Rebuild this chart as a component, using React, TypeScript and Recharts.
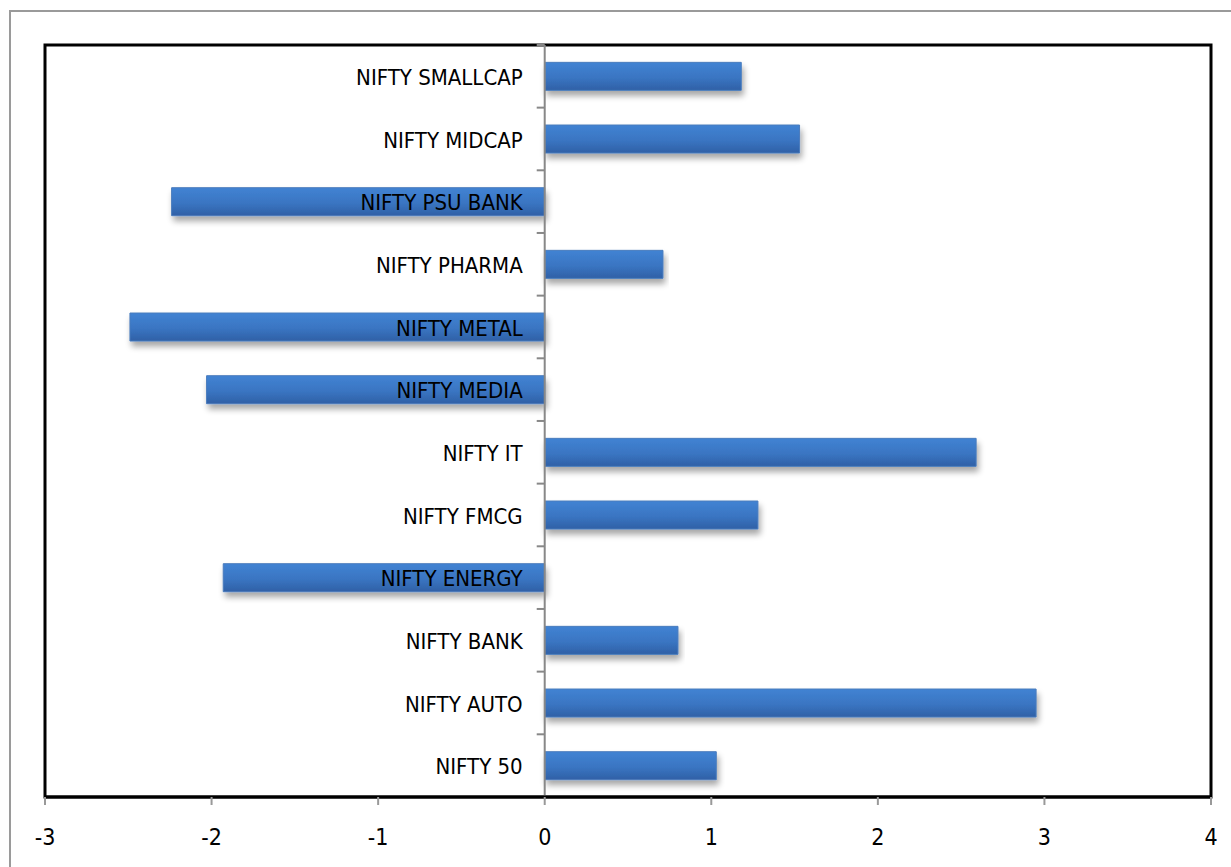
import { Bar, BarChart, LabelList, ReferenceArea, ReferenceLine, XAxis, YAxis } from "recharts";

// NIFTY indices, % change
const indices = [
  "NIFTY 50",
  "NIFTY AUTO",
  "NIFTY BANK",
  "NIFTY ENERGY",
  "NIFTY FMCG",
  "NIFTY IT",
  "NIFTY MEDIA",
  "NIFTY METAL",
  "NIFTY PHARMA",
  "NIFTY PSU BANK",
  "NIFTY MIDCAP",
  "NIFTY SMALLCAP",
];
const changes = [1.03, 2.95, 0.8, -1.93, 1.28, 2.59, -2.03, -2.49, 0.71, -2.24, 1.53, 1.18];
const xTicks = [-3, -2, -1, 0, 1, 2, 3, 4];

const FONT = "'Liberation Sans Narrow', 'DejaVu Sans Condensed', Arial, sans-serif";
const GAP = 0.277; // barCategoryGap as a fraction of the band

// reversed so the first category sits at the bottom
const data = indices.map((name, i) => ({ name, value: changes[i] })).reverse();

// Excel-style: category name right-aligned just left of the zero line, plus a tick at each band edge
function CategoryLabel(props: any) {
  const { x, y, width, height, value, index } = props;
  const neg = data[index].value < 0;
  const zero = neg ? Math.max(x, x + width) : Math.min(x, x + width);
  const band = height / (1 - 2 * GAP);
  const top = y + height / 2 - band / 2;
  return (
    <g>
      <line x1={zero - 8} x2={zero} y1={top} y2={top} stroke="#888" strokeWidth={2} />
      <text
        x={zero - 22}
        y={y + height / 2 + 1}
        textAnchor="end"
        dominantBaseline="central"
        fill="#000"
        fontSize={22}
        fontFamily={FONT}
      >
        {value}
      </text>
    </g>
  );
}

export default function App() {
  return (
    <div style={{ position: "relative", width: 1231, height: 867, background: "#fff" }}>
      <style>{`body{margin:0}`}</style>
      <div
        style={{
          position: "absolute",
          left: 9,
          top: 10,
          right: -10,
          bottom: -10,
          borderLeft: "2px solid #9a9a9a",
          borderTop: "2px solid #9a9a9a",
        }}
      />
      <BarChart
        width={1231}
        height={867}
        data={data}
        layout="vertical"
        margin={{ top: 45, right: 20, bottom: 20, left: 45 }}
        barCategoryGap={`${GAP * 100}%`}
        style={{ position: "absolute", left: 0, top: 0 }}
      >
        <defs>
          <linearGradient id="barFill" x1="0" y1="0" x2="0" y2="1">
            <stop offset="0%" stopColor="#4183d3" />
            <stop offset="55%" stopColor="#3a75c2" />
            <stop offset="100%" stopColor="#2f60a6" />
          </linearGradient>
          <filter id="barShadow" x="-5%" y="-30%" width="110%" height="180%">
            <feGaussianBlur in="SourceAlpha" stdDeviation="3" />
            <feOffset dx="2" dy="5" result="off" />
            <feComponentTransfer>
              <feFuncA type="linear" slope="0.35" />
            </feComponentTransfer>
            <feMerge>
              <feMergeNode />
              <feMergeNode in="SourceGraphic" />
            </feMerge>
          </filter>
        </defs>
        <XAxis
          type="number"
          domain={[-3, 4]}
          ticks={xTicks}
          interval={0}
          axisLine={{ stroke: "#000", strokeWidth: 3 }}
          tickLine={{ stroke: "#999", strokeWidth: 2 }}
          tickSize={8}
          tickMargin={24}
          height={50}
          tick={{ fill: "#000", fontSize: 23, fontFamily: FONT }}
        />
        <YAxis type="category" dataKey="name" hide />
        <Bar
          dataKey="value"
          fill="url(#barFill)"
          stroke="#4a7cbd"
          strokeWidth={1}
          style={{ filter: "url(#barShadow)" }}
          isAnimationActive={false}
        >
          <LabelList dataKey="name" content={<CategoryLabel />} />
        </Bar>
        <ReferenceLine x={0} stroke="#888" strokeWidth={2} />
        <ReferenceArea x1={-3} x2={4} fill="none" stroke="#000" strokeWidth={3} />
      </BarChart>
    </div>
  );
}
